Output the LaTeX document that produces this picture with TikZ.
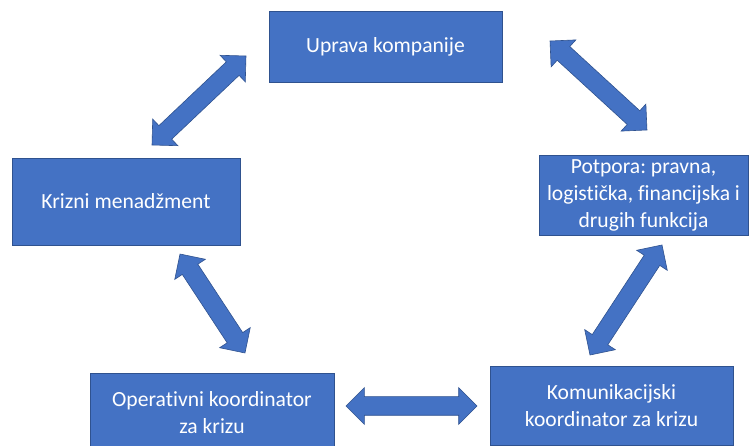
\documentclass[tikz,border=0pt]{standalone}
\usepackage{fontspec}
\setmainfont{Carlito}[Ligatures=CommonOff]
\usetikzlibrary{calc,shapes.arrows}

\definecolor{boxblue}{HTML}{4472C4}
\definecolor{edgeblue}{HTML}{2F528F}

% fat double arrow between two named points
\newcommand{\fatarrow}[2]{%
  \path let \p1=($(#2)-(#1)$), \n1={atan2(\y1,\x1)}, \n2={veclen(\x1,\y1)} in
    node[fat, rotate=\n1, minimum height=\n2] at ($(#1)!0.5!(#2)$) {};}

\begin{document}
\frenchspacing
\begin{tikzpicture}[x=1pt, y=-1pt,
  box/.style={draw=edgeblue, line width=0.8pt, fill=boxblue, text=white, align=center,
    font=\fontsize{21.6}{27}\selectfont, inner sep=0pt},
  fat/.style={double arrow, draw=edgeblue, line width=0.6pt, fill=boxblue,
    inner xsep=0pt, inner ysep=9pt, double arrow head extend=9pt, minimum width=0pt}]
  \clip (0,0) rectangle (753,446);
  \fill[white] (0,0) rectangle (753,446);

  \node[box, minimum width=233pt, minimum height=71pt] (uprava) at (385.5,46.5) {Uprava kompanije};
  \node[box, minimum width=228pt, minimum height=87pt] (krizni) at (126,201.5) {Krizni menad\v{z}ment};
  \node[box, minimum width=209pt, minimum height=80pt] (potpora) at (643.5,195) {Potpora: pravna,\\logisti\v{c}ka, financijska i\\drugih funkcija};
  \node[box, minimum width=244pt, minimum height=80pt] (operativni) at (212,413) {Operativni koordinator\\za krizu};
  \node[box, minimum width=243pt, minimum height=79pt] (komunik) at (611.5,405.5) {Komunikacijski\\koordinator za krizu};

  % arrow ends
  \coordinate (k-u) at (152,145);  \coordinate (u-k) at (246,56);
  \coordinate (u-p) at (550,41);   \coordinate (p-u) at (647,130);
  \coordinate (p-c) at (662,245);  \coordinate (c-p) at (590,355);
  \coordinate (k-o) at (180,254);  \coordinate (o-k) at (245,353);
  \coordinate (o-c) at (346,406);  \coordinate (c-o) at (477,406);

  \fatarrow{k-u}{u-k}
  \fatarrow{u-p}{p-u}
  \fatarrow{c-p}{p-c}
  \fatarrow{k-o}{o-k}
  \fatarrow{o-c}{c-o}
\end{tikzpicture}
\end{document}
